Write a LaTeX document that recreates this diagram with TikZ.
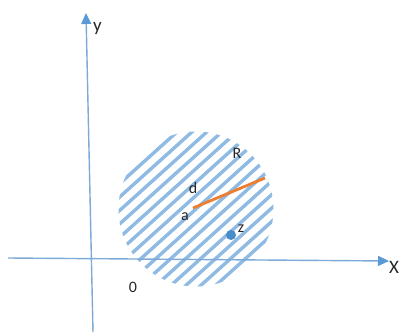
\documentclass[tikz,border=0pt]{standalone}
\usepackage{fontspec}
\setmainfont{Carlito}
\usetikzlibrary{arrows.meta}
\definecolor{axisblue}{HTML}{7DAAD8}
\definecolor{arrowblue}{HTML}{5B9BD5}
\definecolor{hatchblue}{HTML}{8FBAE3}
\definecolor{dotblue}{HTML}{4A8BC9}
\definecolor{orangeline}{HTML}{ED7D31}
\begin{document}
\begin{tikzpicture}[x=1pt,y=-1pt,
  axis/.style={draw=axisblue,line width=1.4pt,-{Triangle[length=11pt,width=10pt,color=arrowblue]}},
  biglbl/.style={font=\fontsize{19}{19}\selectfont,inner sep=0pt,text=black!85},
  lbl/.style={font=\fontsize{16}{16}\selectfont,inner sep=0pt,text=black!85},
  hatchline/.style={draw=hatchblue,line width=3.4pt}]
\useasboundingbox (0,0) rectangle (404,332);
% hatched disc
\begin{scope}
\clip (196,209) circle (77.5);
\foreach \k in {-13,...,13}
  \draw[hatchline] ({196+\k*6.69-110*0.743},{209+\k*7.43+110*0.669}) -- ({196+\k*6.69+110*0.743},{209+\k*7.43-110*0.669});
\end{scope}
% axes
\coordinate (xs) at (8,258);
\coordinate (xe) at (389,261);
\coordinate (ys) at (93,332);
\coordinate (ye) at (86,13);
\draw[axis] (xs) -- (xe);
\draw[axis] (ys) -- (ye);
\node[biglbl,anchor=west] (xl) at (389,267) {X};
\node[biglbl,anchor=west] (yl) at (93,28) {y};
\node[lbl] (zero) at (133,287) {0};
% radius
\coordinate (ac) at (193,208);
\coordinate (rc) at (265,178);
\draw[orangeline,line width=2.8pt] (ac) -- (rc);
\node[lbl] (al) at (185,217) {a};
\node[lbl] (dl) at (193,188) {d};
\node[lbl] (Rl) at (237,153) {R};
\fill[dotblue] (231,235) circle (5) node (zdot) {};
\node[lbl] (zl) at (241,229) {z};
\end{tikzpicture}
\end{document}
